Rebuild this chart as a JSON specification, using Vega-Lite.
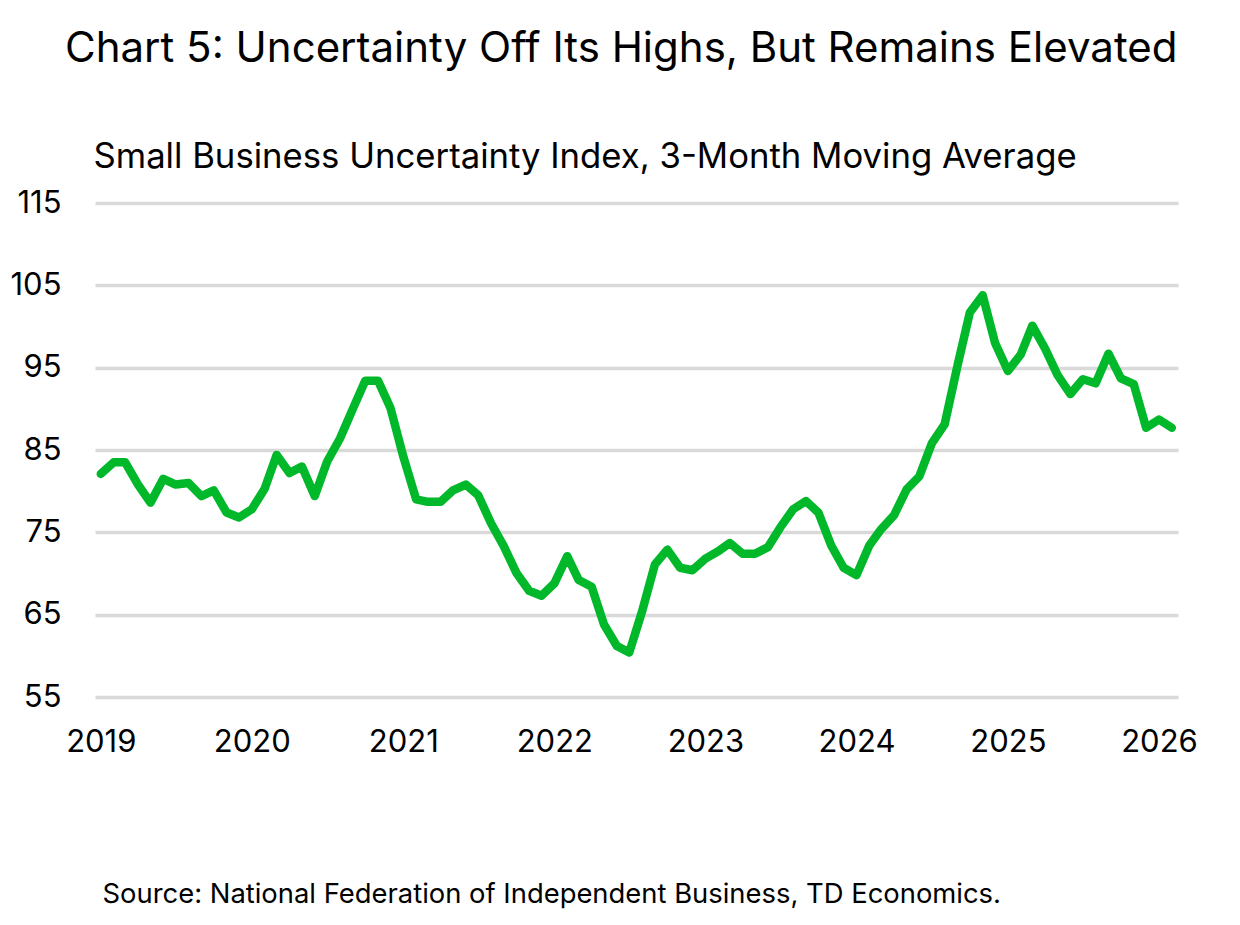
{
  "$schema": "https://vega.github.io/schema/vega-lite/v6.json",
  "width": 1083,
  "height": 494,
  "autosize": {"type": "none"},
  "padding": {"left": 95, "top": 203, "right": 62, "bottom": 228},
  "background": "white",
  "title": {
    "text": "Chart 5: Uncertainty Off Its Highs, But Remains Elevated",
    "anchor": "start",
    "frame": "group",
    "dx": -30,
    "offset": 68,
    "font": "Inter",
    "fontSize": 42,
    "fontWeight": "normal",
    "color": "#000000"
  },
  "config": {
    "view": {"stroke": null},
    "font": "Inter"
  },
  "data": {
    "values": [
      {"date": "2019-01-01", "value": 82.1},
      {"date": "2019-02-01", "value": 83.5},
      {"date": "2019-03-01", "value": 83.5},
      {"date": "2019-04-01", "value": 80.8},
      {"date": "2019-05-01", "value": 78.6},
      {"date": "2019-06-01", "value": 81.5},
      {"date": "2019-07-01", "value": 80.8},
      {"date": "2019-08-01", "value": 81.0},
      {"date": "2019-09-01", "value": 79.4},
      {"date": "2019-10-01", "value": 80.1},
      {"date": "2019-11-01", "value": 77.4},
      {"date": "2019-12-01", "value": 76.8},
      {"date": "2020-01-01", "value": 77.8},
      {"date": "2020-02-01", "value": 80.3},
      {"date": "2020-03-01", "value": 84.4},
      {"date": "2020-04-01", "value": 82.2},
      {"date": "2020-05-01", "value": 83.0},
      {"date": "2020-06-01", "value": 79.4},
      {"date": "2020-07-01", "value": 83.6},
      {"date": "2020-08-01", "value": 86.4},
      {"date": "2020-09-01", "value": 90.0},
      {"date": "2020-10-01", "value": 93.4},
      {"date": "2020-11-01", "value": 93.4},
      {"date": "2020-12-01", "value": 90.1},
      {"date": "2021-01-01", "value": 84.2},
      {"date": "2021-02-01", "value": 79.0},
      {"date": "2021-03-01", "value": 78.7},
      {"date": "2021-04-01", "value": 78.7},
      {"date": "2021-05-01", "value": 80.1},
      {"date": "2021-06-01", "value": 80.8},
      {"date": "2021-07-01", "value": 79.5},
      {"date": "2021-08-01", "value": 76.1},
      {"date": "2021-09-01", "value": 73.3},
      {"date": "2021-10-01", "value": 70.1},
      {"date": "2021-11-01", "value": 67.9},
      {"date": "2021-12-01", "value": 67.3},
      {"date": "2022-01-01", "value": 68.8},
      {"date": "2022-02-01", "value": 72.1},
      {"date": "2022-03-01", "value": 69.2},
      {"date": "2022-04-01", "value": 68.4},
      {"date": "2022-05-01", "value": 63.8},
      {"date": "2022-06-01", "value": 61.2},
      {"date": "2022-07-01", "value": 60.4},
      {"date": "2022-08-01", "value": 65.4},
      {"date": "2022-09-01", "value": 71.1},
      {"date": "2022-10-01", "value": 72.9},
      {"date": "2022-11-01", "value": 70.7},
      {"date": "2022-12-01", "value": 70.4},
      {"date": "2023-01-01", "value": 71.8},
      {"date": "2023-02-01", "value": 72.7},
      {"date": "2023-03-01", "value": 73.7},
      {"date": "2023-04-01", "value": 72.4},
      {"date": "2023-05-01", "value": 72.4},
      {"date": "2023-06-01", "value": 73.2},
      {"date": "2023-07-01", "value": 75.6},
      {"date": "2023-08-01", "value": 77.8},
      {"date": "2023-09-01", "value": 78.8},
      {"date": "2023-10-01", "value": 77.4},
      {"date": "2023-11-01", "value": 73.4},
      {"date": "2023-12-01", "value": 70.7},
      {"date": "2024-01-01", "value": 69.8},
      {"date": "2024-02-01", "value": 73.4},
      {"date": "2024-03-01", "value": 75.4},
      {"date": "2024-04-01", "value": 77.1},
      {"date": "2024-05-01", "value": 80.2},
      {"date": "2024-06-01", "value": 81.8},
      {"date": "2024-07-01", "value": 85.8},
      {"date": "2024-08-01", "value": 88.1},
      {"date": "2024-09-01", "value": 95.2},
      {"date": "2024-10-01", "value": 101.7},
      {"date": "2024-11-01", "value": 103.8},
      {"date": "2024-12-01", "value": 98.0},
      {"date": "2025-01-01", "value": 94.6},
      {"date": "2025-02-01", "value": 96.6},
      {"date": "2025-03-01", "value": 100.1},
      {"date": "2025-04-01", "value": 97.3},
      {"date": "2025-05-01", "value": 94.1},
      {"date": "2025-06-01", "value": 91.8},
      {"date": "2025-07-01", "value": 93.6},
      {"date": "2025-08-01", "value": 93.1},
      {"date": "2025-09-01", "value": 96.7},
      {"date": "2025-10-01", "value": 93.7},
      {"date": "2025-11-01", "value": 93.0},
      {"date": "2025-12-01", "value": 87.7},
      {"date": "2026-01-01", "value": 88.7},
      {"date": "2026-02-01", "value": 87.7}
    ]
  },
  "mark": {
    "type": "line",
    "color": "#00b829",
    "strokeWidth": 8.5,
    "strokeJoin": "round",
    "strokeCap": "round"
  },
  "encoding": {
    "x": {
      "field": "date",
      "type": "temporal",
      "scale": {
        "type": "utc",
        "domain": [
          {"year": 2018, "month": 12, "date": 18, "utc": true},
          {"year": 2026, "month": 2, "date": 16, "utc": true}
        ]
      },
      "axis": {
        "title": "Source: National Federation of Independent Business, TD Economics.",
        "titleX": 7,
        "titleY": 205,
        "titleAlign": "left",
        "titleBaseline": "alphabetic",
        "titleFont": "Inter",
        "titleFontSize": 27.4,
        "titleFontWeight": "normal",
        "titleColor": "#000000",
        "tickCount": "year",
        "format": "%Y",
        "labelFont": "Inter",
        "labelFontSize": 31,
        "labelColor": "#000000",
        "labelPadding": 30,
        "labelFlush": false,
        "labelOverlap": false,
        "domain": false,
        "ticks": false,
        "grid": false
      }
    },
    "y": {
      "field": "value",
      "type": "quantitative",
      "scale": {"domain": [55, 115], "nice": false, "zero": false},
      "axis": {
        "values": [55, 65, 75, 85, 95, 105, 115],
        "title": "Small Business Uncertainty Index, 3-Month Moving Average",
        "titleAngle": 0,
        "titleX": -2,
        "titleY": -36,
        "titleAlign": "left",
        "titleBaseline": "alphabetic",
        "titleFont": "Inter",
        "titleFontSize": 34.7,
        "titleFontWeight": "normal",
        "titleColor": "#000000",
        "labelFont": "Inter",
        "labelFontSize": 31,
        "labelColor": "#000000",
        "labelPadding": 34,
        "domain": false,
        "ticks": false,
        "grid": true,
        "gridColor": "#d9d9d9",
        "gridWidth": 3.5
      }
    }
  }
}
